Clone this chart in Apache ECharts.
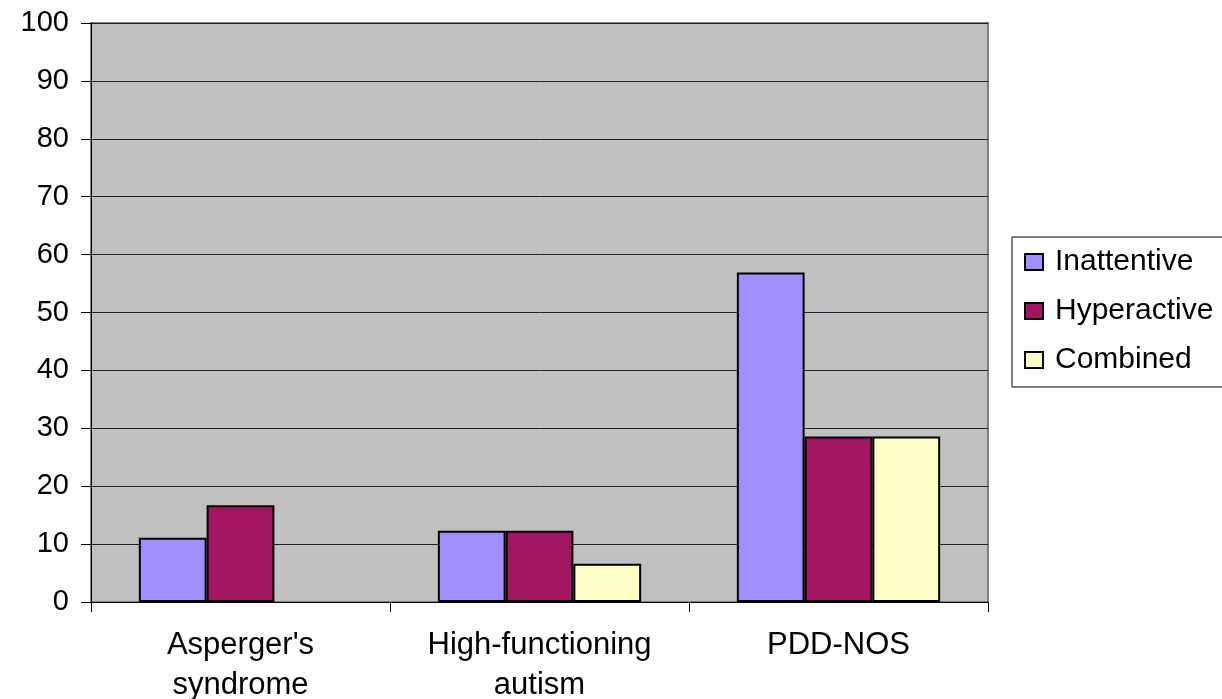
<!DOCTYPE html>
<html>
<head>
<meta charset="utf-8">
<script src="https://cdn.jsdelivr.net/npm/echarts@6/dist/echarts.min.js"></script>
<style>
  html, body { margin: 0; padding: 0; background: #ffffff; }
  #chart { width: 1222px; height: 699px; }
</style>
</head>
<body>
<div id="chart"></div>
<script>
// Diagnostic groups and the share (%) in each ADHD subtype
const categories = ["Asperger's\nsyndrome", 'High-functioning\nautism', 'PDD-NOS'];
const inattentive = [11.1, 12.3, 56.9];
const hyperactive = [16.7, 12.3, 28.6];
const combined = [null, 6.6, 28.6];
const yTicks = { min: 0, max: 100, step: 10 };

const FONT = '"Liberation Sans", Arial, sans-serif';

const chart = echarts.init(document.getElementById('chart'), null, { renderer: 'canvas' });

function barSeries(name, data, color) {
  return {
    name: name,
    type: 'bar',
    data: data,
    barGap: '0%',
    barCategoryGap: '32%',
    itemStyle: { color: color, borderColor: '#000000', borderWidth: 2 },
    emphasis: { disabled: true }
  };
}

chart.setOption({
  backgroundColor: '#ffffff',
  animation: false,
  textStyle: { fontFamily: FONT },
  grid: {
    left: 91, top: 23, right: 234, bottom: 97,
    show: true,
    backgroundColor: '#c0c0c0',
    borderColor: '#808080',
    borderWidth: 2,
    containLabel: false,
    outerBoundsMode: 'none'
  },
  legend: {
    orient: 'vertical',
    left: 1012,
    top: 237,
    padding: [10, 60, 12, 12],
    itemGap: 19,
    itemWidth: 18,
    itemHeight: 16,
    icon: 'rect',
    borderColor: '#000000',
    borderWidth: 1,
    backgroundColor: '#ffffff',
    selectedMode: false,
    textStyle: {
      fontFamily: FONT, fontSize: 30, color: '#000000',
      lineHeight: 30, padding: [0, 0, 0, 7]
    },
    data: ['Inattentive', 'Hyperactive', 'Combined']
  },
  xAxis: {
    type: 'category',
    data: categories,
    boundaryGap: true,
    axisLine: { show: true, lineStyle: { color: '#000000', width: 1 } },
    axisTick: { show: true, length: 10, alignWithLabel: false, lineStyle: { color: '#000000' } },
    axisLabel: {
      margin: 23, fontFamily: FONT, fontSize: 31, lineHeight: 40,
      color: '#000000', interval: 0
    },
    splitLine: { show: false }
  },
  yAxis: {
    type: 'value',
    min: yTicks.min,
    max: yTicks.max,
    interval: yTicks.step,
    axisLine: { show: true, lineStyle: { color: '#000000', width: 1 } },
    axisTick: { show: true, length: 10, lineStyle: { color: '#000000' } },
    axisLabel: { margin: 22, fontFamily: FONT, fontSize: 29, color: '#000000' },
    splitLine: { show: true, lineStyle: { color: '#222222', width: 1 } }
  },
  series: [
    barSeries('Inattentive', inattentive, '#9f8fff'),
    barSeries('Hyperactive', hyperactive, '#a11562'),
    barSeries('Combined', combined, '#ffffc8')
  ]
});
</script>
</body>
</html>
